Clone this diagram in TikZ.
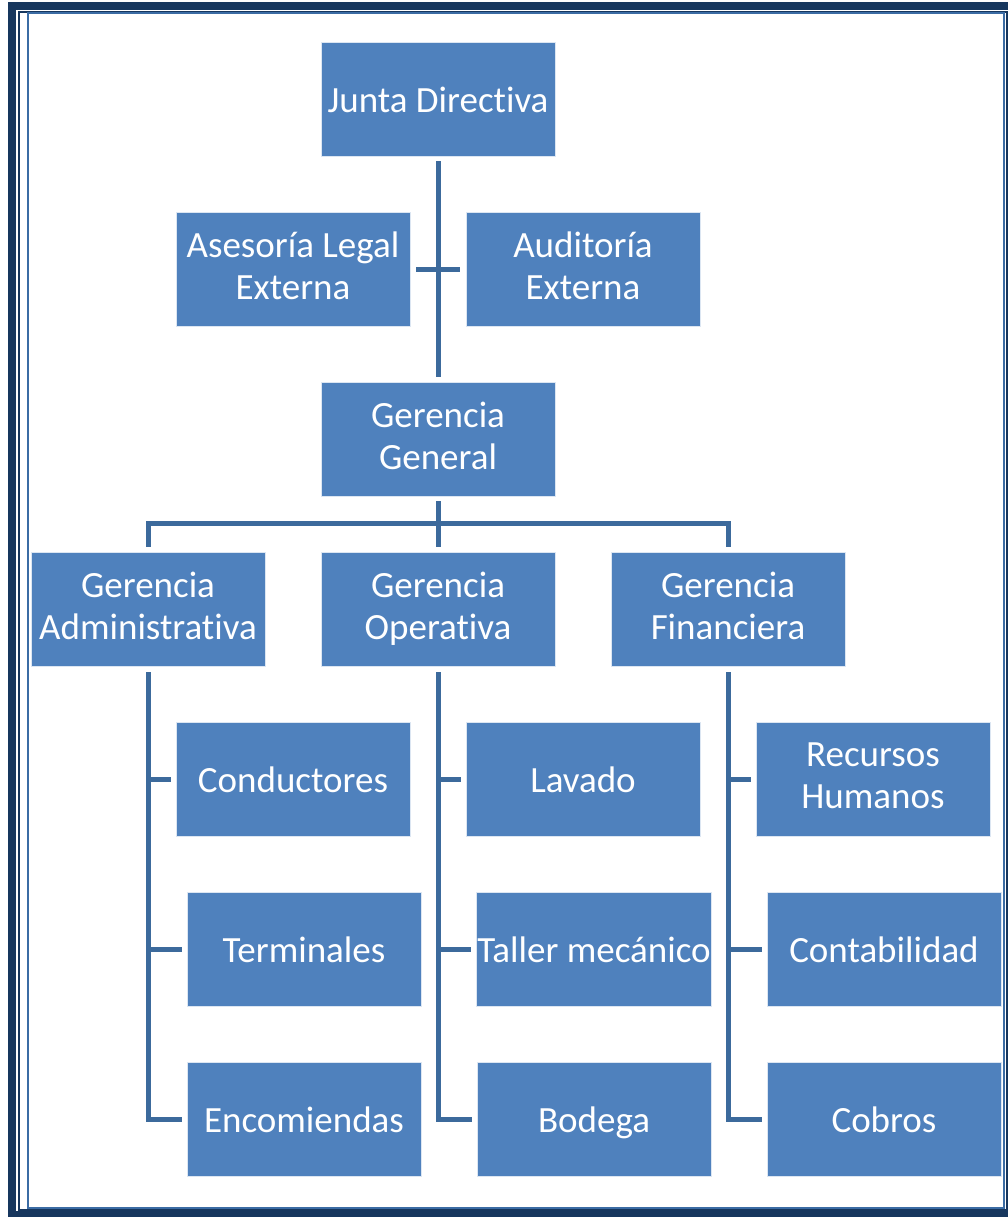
\documentclass[tikz,border=0pt]{standalone}
\usepackage{fontspec}
\setmainfont[Ligatures=NoCommon]{Carlito}
\usepackage{tikz}

\definecolor{boxblue}{HTML}{4F81BD}
\definecolor{linkblue}{HTML}{3C6A9C}
\definecolor{navy}{HTML}{17375E}
\definecolor{rimblue}{HTML}{3B6CA4}
\newcommand{\ustrut}{\rule[-7pt]{0pt}{41pt}}

\begin{document}
\begin{tikzpicture}[x=1pt, y=-1pt,
  unit/.style={rectangle, fill=boxblue, draw=white!80!boxblue, line width=0.8pt,
    minimum width=234pt, minimum height=114pt, inner sep=1pt,
    text=white, align=center, font=\fontsize{37}{42}\selectfont,
    execute at begin node=\ustrut, execute at end node=\ustrut},
  link/.style={draw=linkblue, line width=5pt}]
  \clip (0,0) rectangle (1008,1217);
  % frame
  \draw[navy, line width=8pt] (12,6) rectangle (1020,1215);
  \draw[navy, line width=2pt] (19,12) rectangle (1006.5,1210);
  \draw[rimblue, line width=2pt] (28,13.5) rectangle (1004,1207.5);

  \node[unit] (A) at (438,99) {Junta Directiva};
  \node[unit] (B) at (293,269) {Asesoría Legal\\Externa};
  \node[unit] (C) at (583,269) {Auditoría\\Externa};
  \node[unit] (D) at (438,439) {Gerencia\\General};
  \node[unit] (E) at (148,609) {Gerencia\\Administrativa};
  \node[unit] (F) at (438,609) {Gerencia\\Operativa};
  \node[unit] (G) at (728,609) {Gerencia\\Financiera};
  \node[unit] (H) at (293,779) {Conductores};
  \node[unit] (I) at (304,949) {Terminales};
  \node[unit] (J) at (304,1119) {Encomiendas};
  \node[unit] (K) at (583,779) {Lavado};
  \node[unit] (L) at (594,949) {Taller mecánico};
  \node[unit] (M) at (594,1119) {Bodega};
  \node[unit] (N) at (873,779) {Recursos\\Humanos};
  \node[unit] (O) at (884,949) {Contabilidad};
  \node[unit] (P) at (884,1119) {Cobros};

  \coordinate (bus) at (438,523);

  \draw[link, shorten <=5pt, shorten >=5pt] (A) -- (D);
  \draw[link, shorten <=6pt, shorten >=6pt] (B) -- (C);
  \draw[link, shorten <=5pt] (D) -- (bus);
  \draw[link, shorten <=5pt, shorten >=5pt] (E) |- (bus) -| (G);
  \draw[link, shorten <=5pt] (F) -- (bus);

  \draw[link, shorten <=6pt, shorten >=5pt] (E) |- (J);
  \draw[link, shorten <=5pt] (H) -- (H -| E);
  \draw[link, shorten <=5pt] (I) -- (I -| E);

  \draw[link, shorten <=6pt, shorten >=5pt] (F) |- (M);
  \draw[link, shorten <=5pt] (K) -- (K -| F);
  \draw[link, shorten <=5pt] (L) -- (L -| F);

  \draw[link, shorten <=6pt, shorten >=5pt] (G) |- (P);
  \draw[link, shorten <=5pt] (N) -- (N -| G);
  \draw[link, shorten <=5pt] (O) -- (O -| G);
\end{tikzpicture}
\end{document}
